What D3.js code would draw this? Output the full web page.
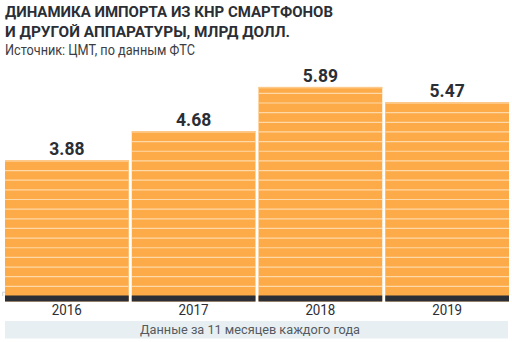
<!DOCTYPE html>
<html><head><meta charset="utf-8">
<script src="https://cdn.jsdelivr.net/npm/d3@7"></script>
<style>html,body{margin:0;padding:0;background:#fff;}svg{display:block;}</style>
</head><body>
<script>
const years = ["2016", "2017", "2018", "2019"];
const values = [3.88, 4.68, 5.89, 5.47];
const valueLabels = ["3.88", "4.68", "5.89", "5.47"];
const titleLines = ["ДИНАМИКА ИМПОРТА ИЗ КНР СМАРТФОНОВ", "И ДРУГОЙ АППАРАТУРЫ, МЛРД ДОЛЛ."];
const subtitle = "Источник: ЦМТ, по данным ФТС";
const note = "Данные за 11 месяцев каждого года";

const W = 512, H = 342;
const svg = d3.select("body").append("svg").attr("width", W).attr("height", H);
const FONT = "Roboto, 'DejaVu Sans', sans-serif";
const dark = "#2b2e35";

const x = d3.scaleBand().domain(years).range([5, 509]).paddingInner(3/126).paddingOuter(0);
const y = d3.scaleLinear().domain([0, 6.5]).range([301.5, 301.5 - 36.43 * 6.5]);

// title
const tl = [[17, 328], [37, 285]];
titleLines.forEach((t, i) => {
  svg.append("text").attr("x", 5).attr("y", tl[i][0]).text(t)
    .attr("font-family", FONT).attr("font-weight", 700).attr("font-size", 15)
    .attr("fill", dark).attr("textLength", tl[i][1]).attr("lengthAdjust", "spacingAndGlyphs");
});
svg.append("text").attr("x", 5).attr("y", 55).text(subtitle)
  .attr("font-family", FONT).attr("font-size", 14).attr("fill", "#3a3d44")
  .attr("textLength", 190).attr("lengthAdjust", "spacingAndGlyphs");

// faint axis frame
svg.append("path").attr("d", `M5,292.2H2.7V296`).attr("fill", "none").attr("stroke", "#d0d0d0").attr("stroke-width", 1);
svg.append("path").attr("d", `M506,292.2H508.3V296`).attr("fill", "none").attr("stroke", "#d0d0d0").attr("stroke-width", 1);

const defs = svg.append("defs");
const bars = svg.append("g");
const baseTop = 295.5, stripeOrigin = 296, pitch = 9.65;
years.forEach((yr, i) => {
  const bx = x(yr), bw = x.bandwidth(), top = y(values[i]);
  const cid = "clip" + i;
  defs.append("clipPath").attr("id", cid).append("rect")
    .attr("x", bx).attr("y", top).attr("width", bw).attr("height", baseTop - top);
  const g = bars.append("g");
  g.append("rect").attr("x", bx).attr("y", top).attr("width", bw).attr("height", y(0) - top).attr("fill", "#fdab48");
  const lg = g.append("g").attr("clip-path", `url(#${cid})`);
  for (let k = 1; stripeOrigin - k * pitch > top - 2; k++) {
    const ly = stripeOrigin - k * pitch;
    lg.append("line").attr("x1", bx).attr("x2", bx + bw).attr("y1", ly).attr("y2", ly)
      .attr("stroke", "#fed8a6").attr("stroke-width", 1.2);
  }
  g.append("rect").attr("x", bx).attr("y", top).attr("width", bw).attr("height", 1.5).attr("fill", "#fdc98a");
  g.append("rect").attr("x", bx).attr("y", baseTop).attr("width", bw).attr("height", y(0) - baseTop).attr("fill", dark);
  svg.append("text").attr("x", bx + bw / 2).attr("y", top - 5).attr("text-anchor", "middle")
    .text(valueLabels[i]).attr("font-family", FONT).attr("font-weight", 700).attr("font-size", 17.5).attr("fill", dark);
});

// x axis labels
const xAxis = d3.axisBottom(x).tickSize(0).tickPadding(0);
const ax = svg.append("g").attr("transform", "translate(0,304)").call(xAxis);
ax.select(".domain").remove();
ax.selectAll("text").attr("font-family", FONT).attr("font-size", 15).attr("fill", dark)
  .attr("dy", "0.75em").attr("textLength", 30).attr("lengthAdjust", "spacingAndGlyphs");

// note box
svg.append("rect").attr("x", 5).attr("y", 321).attr("width", 503).attr("height", 17.5).attr("fill", "#e7eff2");
svg.append("text").attr("x", 250).attr("y", 334).attr("text-anchor", "middle").text(note)
  .attr("font-family", FONT).attr("font-size", 12).attr("fill", "#555a60")
  .attr("textLength", 220).attr("lengthAdjust", "spacingAndGlyphs");
</script>
</body></html>
